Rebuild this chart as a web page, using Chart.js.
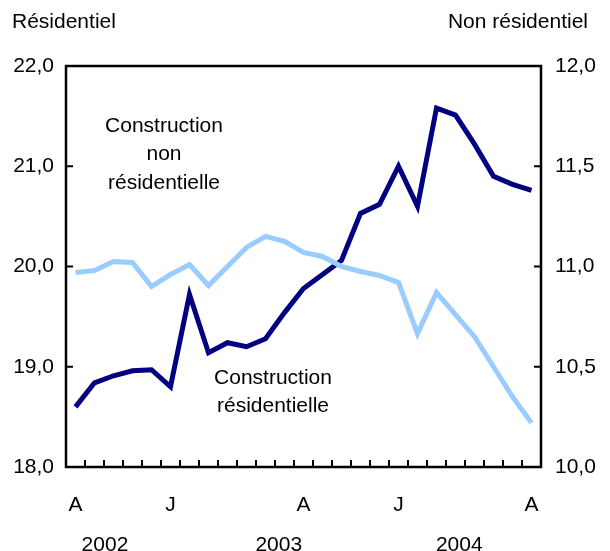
<!DOCTYPE html>
<html>
<head>
<meta charset="utf-8">
<script src="https://cdn.jsdelivr.net/npm/chart.js@4.4.1/dist/chart.umd.min.js"></script>
<style>
  html, body { margin: 0; padding: 0; background: #fff; }
  #wrap { width: 610px; height: 551px; }
</style>
</head>
<body>
<div id="wrap"><canvas id="c" width="610" height="551"></canvas></div>
<script>
// monthly, August 2002 to August 2004
let months = ['A','','','','','J','','','','','','','A','','','','','J','','','','','','','A'];
let residentiel = [19.94, 19.96, 20.05, 20.04, 19.80, 19.92, 20.02, 19.81, 20.00, 20.19, 20.30, 20.25, 20.14,
                   20.10, 20.00, 19.95, 19.91, 19.84, 19.33, 19.74, 19.52, 19.30, 19.00, 18.70, 18.44];
let nonResidentiel = [10.30, 10.42, 10.455, 10.48, 10.485, 10.40, 10.86, 10.57, 10.62, 10.60, 10.64, 10.77, 10.89,
                      10.96, 11.03, 11.265, 11.31, 11.50, 11.30, 11.79, 11.755, 11.61, 11.45, 11.41, 11.38];
let years = ['2002', '2003', '2004'];
let yearPos = [1.55, 10.7, 20.2];

const FONT = '"Liberation Sans", Arial, Helvetica, sans-serif';
const fmt = v => v.toFixed(1).replace('.', ',');

const decor = {
  id: 'decor',
  afterDraw(chart) {
    const ctx = chart.ctx;
    const a = chart.chartArea;
    const x = chart.scales.x, yl = chart.scales.y, yr = chart.scales.y1;
    ctx.save();
    ctx.strokeStyle = '#000';
    ctx.lineWidth = 2.5;
    ctx.strokeRect(a.left, a.top, a.right - a.left, a.bottom - a.top);
    ctx.lineWidth = 2;
    ctx.beginPath();
    for (let i = 1; i < months.length; i++) {
      const px = x.getPixelForValue(i - 0.5);
      ctx.moveTo(px, a.bottom); ctx.lineTo(px, a.bottom - 7);
    }
    yl.ticks.forEach(t => {
      const py = yl.getPixelForValue(t.value);
      ctx.moveTo(a.left, py); ctx.lineTo(a.left + 7, py);
    });
    yr.ticks.forEach(t => {
      const py = yr.getPixelForValue(t.value);
      ctx.moveTo(a.right, py); ctx.lineTo(a.right - 7, py);
    });
    ctx.stroke();

    ctx.fillStyle = '#000';
    ctx.font = '21px ' + FONT;
    ctx.textBaseline = 'middle';
    ctx.textAlign = 'left';
    ctx.fillText('Résidentiel', 12, 22);
    ctx.textAlign = 'right';
    ctx.fillText('Non résidentiel', 588, 22);
    ctx.textAlign = 'center';
    years.forEach((y, i) => ctx.fillText(y, x.getPixelForValue(yearPos[i]), 545));
    ['Construction', 'non', 'résidentielle'].forEach((s, i) => ctx.fillText(s, 164, 126 + i * 28.5));
    ['Construction', 'résidentielle'].forEach((s, i) => ctx.fillText(s, 273, 378 + i * 28.5));
    ctx.restore();
  }
};

new Chart(document.getElementById('c'), {
  type: 'line',
  data: {
    labels: months,
    datasets: [
      { label: 'Construction résidentielle', data: residentiel, yAxisID: 'y',
        borderColor: '#99ccff', borderWidth: 5, pointRadius: 0, tension: 0, borderJoinStyle: 'miter' },
      { label: 'Construction non résidentielle', data: nonResidentiel, yAxisID: 'y1',
        borderColor: '#000080', borderWidth: 5, pointRadius: 0, tension: 0, borderJoinStyle: 'miter' }
    ]
  },
  options: {
    responsive: false,
    animation: false,
    layout: { padding: { top: 66, left: 0, right: 0, bottom: 0 } },
    plugins: { legend: { display: false }, tooltip: { enabled: false } },
    scales: {
      x: {
        offset: true,
        grid: { display: false, drawTicks: false },
        border: { display: false },
        ticks: { autoSkip: false, maxRotation: 0, padding: 26, color: '#000', font: { family: FONT, size: 21 } },
        afterFit: s => { s.height = 84; }
      },
      y: {
        position: 'left', min: 18, max: 22,
        grid: { display: false, drawTicks: false },
        border: { display: false },
        ticks: { stepSize: 1, padding: 12, color: '#000', font: { family: FONT, size: 21 }, callback: fmt },
        afterFit: s => { s.width = 66; }
      },
      y1: {
        position: 'right', min: 10, max: 12,
        grid: { display: false, drawTicks: false },
        border: { display: false },
        ticks: { stepSize: 0.5, padding: 14, color: '#000', font: { family: FONT, size: 21 }, callback: fmt },
        afterFit: s => { s.width = 69; }
      }
    }
  },
  plugins: [decor]
});
</script>
</body>
</html>
